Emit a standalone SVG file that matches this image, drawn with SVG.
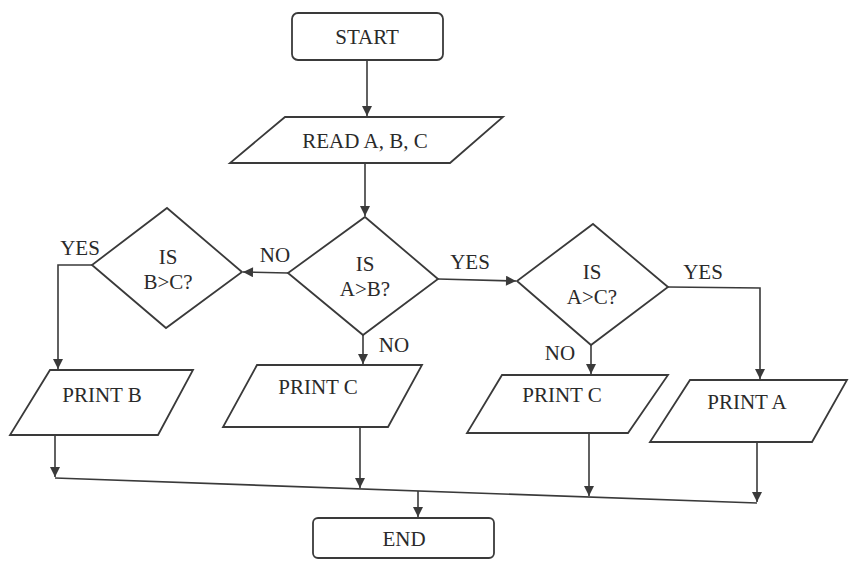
<svg xmlns="http://www.w3.org/2000/svg" width="849" height="571" viewBox="0 0 849 571">
<style>
.shape{fill:#fff;stroke:#3a3a3a;stroke-width:1.8}
.conn{fill:none;stroke:#3a3a3a;stroke-width:1.6}
.t{font-family:'Liberation Serif','DejaVu Serif','Times New Roman',serif;font-size:21px;fill:#2a2a2a;text-anchor:middle;dominant-baseline:central}
</style>
<defs>
<marker id="ah" viewBox="0 0 10 10" refX="10" refY="5" markerWidth="11" markerHeight="10" markerUnits="userSpaceOnUse" orient="auto">
<path d="M0,0 L10,5 L0,10 Z" fill="#3a3a3a"/>
</marker>
</defs>
<rect width="849" height="571" fill="#fff"/>
<g id="connectors">
<path class="conn" d="M367,60 L367,116" marker-end="url(#ah)"/>
<path class="conn" d="M365,163 L365,216" marker-end="url(#ah)"/>
<path class="conn" d="M288,273 L243,272" marker-end="url(#ah)"/>
<path class="conn" d="M438,279 L516,281" marker-end="url(#ah)"/>
<path class="conn" d="M363,335 L363,364" marker-end="url(#ah)"/>
<path class="conn" d="M92,265 L58,265 L58,369" marker-end="url(#ah)"/>
<path class="conn" d="M668,287 L760,288 L760,379" marker-end="url(#ah)"/>
<path class="conn" d="M591,345 L591,374" marker-end="url(#ah)"/>
<path class="conn" d="M55,435 L55,477" marker-end="url(#ah)"/>
<path class="conn" d="M360,427 L360,488" marker-end="url(#ah)"/>
<path class="conn" d="M589,433 L589,496" marker-end="url(#ah)"/>
<path class="conn" d="M757,442 L757,502" marker-end="url(#ah)"/>
<path class="conn" d="M55,478 L757,503"/>
<path class="conn" d="M418,491 L418,517" marker-end="url(#ah)"/>
<text class="t" font-family="Liberation Serif, serif" x="275" y="255">NO</text>
<text class="t" font-family="Liberation Serif, serif" x="80" y="248">YES</text>
<text class="t" font-family="Liberation Serif, serif" x="394" y="345">NO</text>
<text class="t" font-family="Liberation Serif, serif" x="470" y="262">YES</text>
<text class="t" font-family="Liberation Serif, serif" x="703" y="272">YES</text>
<text class="t" font-family="Liberation Serif, serif" x="560" y="353">NO</text>
</g>
<g id="start">
<rect class="shape" x="292" y="13" width="151" height="47" rx="6"/>
<text class="t" x="367" y="37">START</text>
</g>
<g id="read">
<polygon class="shape" points="285,117 503,117 450,163 230,163"/>
<text class="t" x="365" y="141">READ A, B, C</text>
</g>
<g id="isAB">
<polygon class="shape" points="365,217 438,279 363,335 288,273"/>
<text class="t" x="365" y="264">IS</text>
<text class="t" x="365" y="289">A&gt;B?</text>
</g>
<g id="isBC">
<polygon class="shape" points="167,208 242,272 166,328 92,265"/>
<text class="t" x="168" y="257">IS</text>
<text class="t" x="168" y="282">B&gt;C?</text>
</g>
<g id="isAC">
<polygon class="shape" points="593,224 668,287 591,345 517,281"/>
<text class="t" x="592" y="272">IS</text>
<text class="t" x="592" y="297">A&gt;C?</text>
</g>
<g id="printB">
<polygon class="shape" points="50,370 193,370 158,435 10,435"/>
<text class="t" x="102" y="395">PRINT B</text>
</g>
<g id="printC1">
<polygon class="shape" points="257,365 422,365 388,427 223,427"/>
<text class="t" x="318" y="387">PRINT C</text>
</g>
<g id="printC2">
<polygon class="shape" points="502,375 668,375 628,433 467,433"/>
<text class="t" x="562" y="395">PRINT C</text>
</g>
<g id="printA">
<polygon class="shape" points="690,380 847,380 812,442 650,442"/>
<text class="t" x="747" y="402">PRINT A</text>
</g>
<g id="end">
<rect class="shape" x="313" y="518" width="181" height="40" rx="5"/>
<text class="t" x="404" y="539">END</text>
</g>
</svg>
